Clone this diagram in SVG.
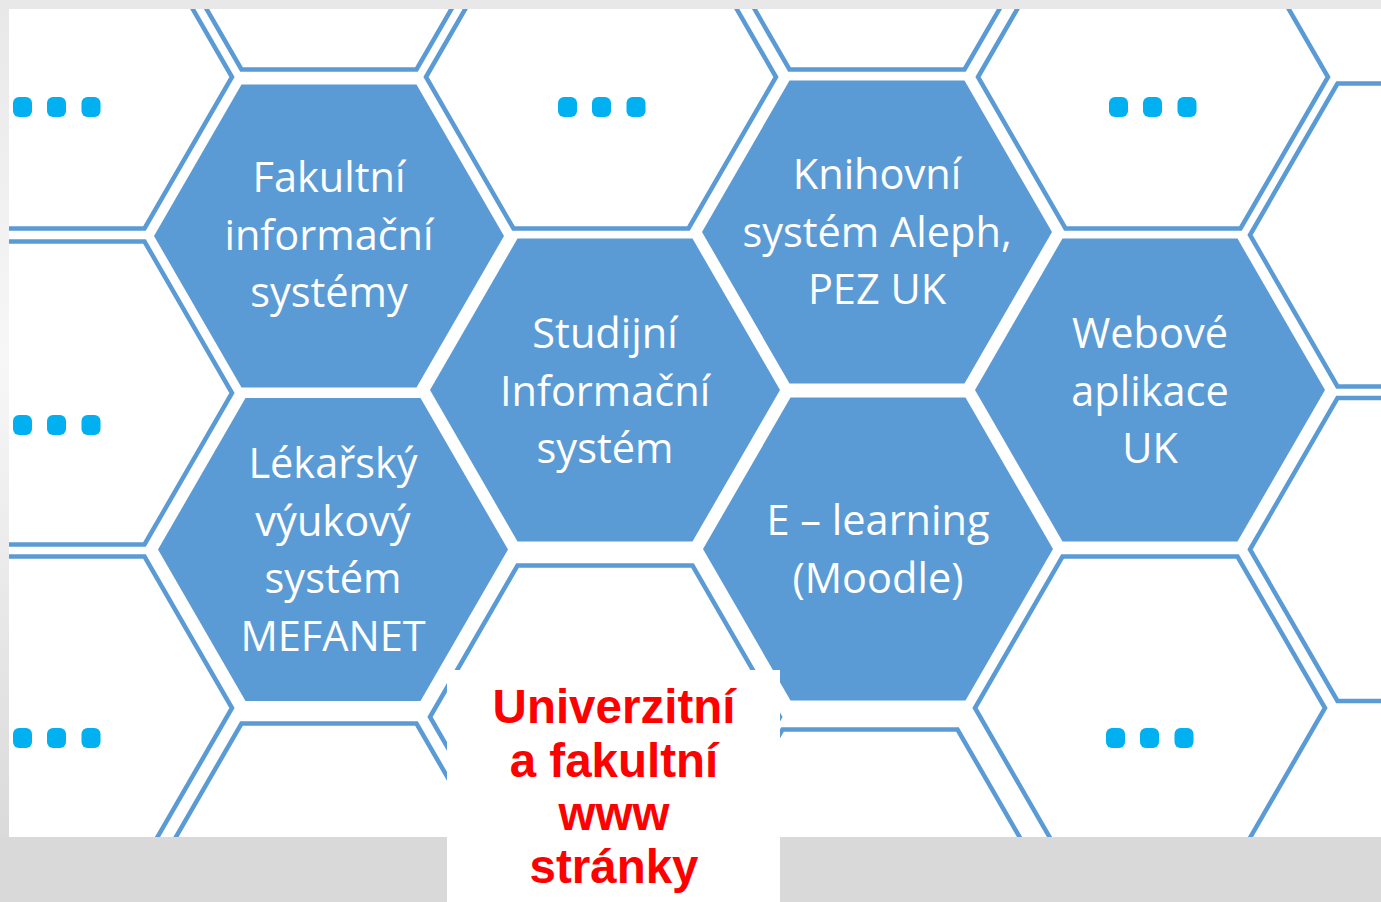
<svg xmlns="http://www.w3.org/2000/svg" xmlns:xlink="http://www.w3.org/1999/xlink" width="1381" height="902" viewBox="0 0 1381 902">
  <defs>
    <style>
      .blue { fill: #5B9BD5; }
      .outline { fill: #FFFFFF; stroke: #5B9BD5; stroke-width: 4.5; }
      .lbl { font-family: "Open Sans", "Liberation Sans", sans-serif; font-size: 41.5px; fill: #FFFFFF; text-anchor: middle; }
      .red { font-family: "Liberation Sans", Arial, sans-serif; font-size: 47.5px; font-weight: bold; fill: #FF0000; text-anchor: middle; }
      .dot { fill: #00B0F0; }
    </style>
    <path id="hex" d="M-175,0 L-87.5,-151.5 L87.5,-151.5 L175,0 L87.5,151.5 L-87.5,151.5 Z"/>
    <g id="dots">
      <rect class="dot" x="0" y="0" width="19" height="20" rx="6"/>
      <rect class="dot" x="34" y="0" width="19" height="20" rx="6"/>
      <rect class="dot" x="68.5" y="0" width="19" height="20" rx="6"/>
    </g>
    <linearGradient id="bg" x1="0" y1="0" x2="0" y2="1">
      <stop offset="0" stop-color="#E8E8E8"/>
      <stop offset="0.4" stop-color="#F7F7F7"/>
      <stop offset="0.93" stop-color="#DADADA"/>
      <stop offset="1" stop-color="#D9D9D9"/>
    </linearGradient>
    <clipPath id="slide">
      <rect x="9" y="9" width="1372" height="828"/>
    </clipPath>
  </defs>

  <rect x="0" y="0" width="1381" height="902" fill="url(#bg)"/>
  <rect x="0" y="0" width="1381" height="9" fill="#E8E8E8"/>
  <rect x="0" y="837" width="1381" height="65" fill="#D9D9D9"/>
  <rect x="9" y="9" width="1372" height="828" fill="#FFFFFF"/>

  <g clip-path="url(#slide)">
    <g id="empty-hexes">
      <use xlink:href="#hex" class="outline" transform="translate(57,77)"/>
      <use xlink:href="#hex" class="outline" transform="translate(57,393)"/>
      <use xlink:href="#hex" class="outline" transform="translate(57,708)"/>
      <use xlink:href="#hex" class="outline" transform="translate(329,-82)"/>
      <use xlink:href="#hex" class="outline" transform="translate(329,875)"/>
      <use xlink:href="#hex" class="outline" transform="translate(601,77)"/>
      <use xlink:href="#hex" class="outline" transform="translate(605,717)"/>
      <use xlink:href="#hex" class="outline" transform="translate(877,-82)"/>
      <use xlink:href="#hex" class="outline" transform="translate(870,881)"/>
      <use xlink:href="#hex" class="outline" transform="translate(1153,77)"/>
      <use xlink:href="#hex" class="outline" transform="translate(1150,708)"/>
      <use xlink:href="#hex" class="outline" transform="translate(1425,235)"/>
      <use xlink:href="#hex" class="outline" transform="translate(1425,549.5)"/>
    </g>
    <g id="more-items">
      <use xlink:href="#dots" transform="translate(13,97)"/>
      <use xlink:href="#dots" transform="translate(13,415)"/>
      <use xlink:href="#dots" transform="translate(13,728)"/>
      <use xlink:href="#dots" transform="translate(558,97)"/>
      <use xlink:href="#dots" transform="translate(1109,97)"/>
      <use xlink:href="#dots" transform="translate(1106,728)"/>
    </g>

    <g id="node-fakultni">
      <use xlink:href="#hex" class="blue" transform="translate(329,236)"/>
      <text class="lbl" x="329" y="192">Fakultní</text>
      <text class="lbl" x="329" y="249.5">informační</text>
      <text class="lbl" x="329" y="307">systémy</text>
    </g>
    <g id="node-lekarsky">
      <use xlink:href="#hex" class="blue" transform="translate(333,549.5)"/>
      <text class="lbl" x="333" y="478">Lékařský</text>
      <text class="lbl" x="333" y="535.5">výukový</text>
      <text class="lbl" x="333" y="593">systém</text>
      <text class="lbl" x="333" y="650.5">MEFANET</text>
    </g>
    <g id="node-studijni">
      <use xlink:href="#hex" class="blue" transform="translate(605,390)"/>
      <text class="lbl" x="605" y="348">Studijní</text>
      <text class="lbl" x="605" y="405.5">Informační</text>
      <text class="lbl" x="605" y="463">systém</text>
    </g>
    <g id="node-knihovni">
      <use xlink:href="#hex" class="blue" transform="translate(877,232)"/>
      <text class="lbl" x="877" y="189">Knihovní</text>
      <text class="lbl" x="877" y="246.5">systém Aleph,</text>
      <text class="lbl" x="877" y="304">PEZ UK</text>
    </g>
    <g id="node-elearning">
      <use xlink:href="#hex" class="blue" transform="translate(878,549)"/>
      <text class="lbl" x="878" y="535">E – learning</text>
      <text class="lbl" x="878" y="592.5">(Moodle)</text>
    </g>
    <g id="node-webove">
      <use xlink:href="#hex" class="blue" transform="translate(1150,390)"/>
      <text class="lbl" x="1150" y="348">Webové</text>
      <text class="lbl" x="1150" y="405.5">aplikace</text>
      <text class="lbl" x="1150" y="463">UK</text>
    </g>
  </g>

  <g id="node-www">
    <rect x="447" y="670" width="333" height="232" fill="#FFFFFF"/>
    <text class="red" x="614" y="723">Univerzitní</text>
    <text class="red" x="614" y="776.5">a fakultní</text>
    <text class="red" x="614" y="829.5">www</text>
    <text class="red" x="614" y="883">stránky</text>
  </g>

  <g id="connectors"/>
</svg>
